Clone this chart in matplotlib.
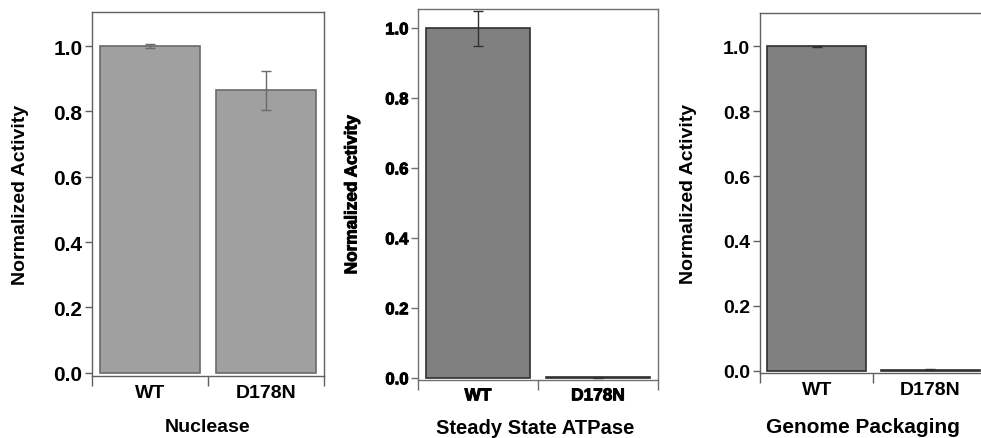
import matplotlib as mpl
import matplotlib.pyplot as plt
import matplotlib.patheffects as pe
import numpy as np

mpl.rcParams['font.family'] = 'Liberation Sans'
mpl.rcParams['font.weight'] = 'bold'

# ---------------------------------------------------------------------------- #

categories = ['WT', 'D178N']

nuclease = [1.0, 0.865]
nuclease_err = [0.005, 0.06]

atpase = [1.0, 0.003]
atpase_err = [0.05, 0.002]

packaging = [1.0, 0.003]
packaging_err = [0.002, 0.002]

yticks = [0.0, 0.2, 0.4, 0.6, 0.8, 1.0]

# ---------------------------------------------------------------------------- #

fig = plt.figure(figsize=(9.81, 4.39), dpi=100)

# (rect, values, errors, xlabel, ylim, face, edge, spine, tick size, label size,
#  xlabel size, ylabel x, xlabel pos, extra stroke)
panels = [
    ([0.0938, 0.1412, 0.2365, 0.829], nuclease, nuclease_err, 'Nuclease',
     (-0.01, 1.104), '#a0a0a0', '#6a6a6a', '#606060', 15, 14, 14, -0.31, (0.5, -0.14), 0),
    ([0.4261, 0.1321, 0.2446, 0.845], atpase, atpase_err, 'Steady State ATPase',
     (-0.005, 1.055), '#808080', '#303030', '#707070', 12, 12.4, 14.5, -0.275, (0.49, -0.127), 0.7),
    ([0.7747, 0.1481, 0.2314, 0.820], packaging, packaging_err, 'Genome Packaging',
     (-0.007, 1.103), '#808080', '#303030', '#606060', 14, 14, 15, -0.317, (0.455, -0.15), 0),
]

for rect, vals, errs, xlab, ylim, face, edge, spine, tsize, lsize, xsize, ylx, xlp, stroke in panels:
    ax = fig.add_axes(rect)
    x = np.arange(len(categories)) + 0.5
    ax.bar(x, vals, width=0.87, color=face, edgecolor=edge, linewidth=1.2, zorder=2)
    ax.errorbar(x, vals, yerr=errs, fmt='none', ecolor=edge, elinewidth=1.0,
                capsize=3.5, capthick=1.0, zorder=3)

    ax.set_xlim(0, len(categories))
    ax.set_ylim(*ylim)

    ax.set_xticks(np.arange(len(categories) + 1))
    ax.set_xticklabels([])
    ax.set_xticks(x, minor=True)
    ax.set_xticklabels(categories, minor=True, fontsize=lsize, fontweight='bold')
    ax.tick_params(axis='x', which='major', direction='out', length=7, width=1.0, color=spine)
    ax.tick_params(axis='x', which='minor', length=0, pad=6)

    ax.set_yticks(yticks)
    ax.set_yticklabels(['%.1f' % v for v in yticks], fontsize=tsize, fontweight='bold')
    ax.tick_params(axis='y', direction='out', length=5, width=1.0, color=spine, pad=2)

    for s in ax.spines.values():
        s.set_color(spine)
        s.set_linewidth(1.0)

    ax.set_ylabel('Normalized Activity', fontsize=lsize, fontweight='bold')
    ax.yaxis.set_label_coords(ylx, 0.5)
    ax.yaxis.label.set_va('center')

    ax.set_xlabel(xlab, fontsize=xsize, fontweight='bold')
    ax.xaxis.set_label_coords(*xlp)
    ax.xaxis.label.set_va('center')

    if stroke:
        fx = [pe.withStroke(linewidth=stroke, foreground='black')]
        for t in ax.get_yticklabels() + ax.get_xticklabels(minor=True) + [ax.yaxis.label]:
            t.set_path_effects(fx)

fig.savefig('out.png', dpi=100)
